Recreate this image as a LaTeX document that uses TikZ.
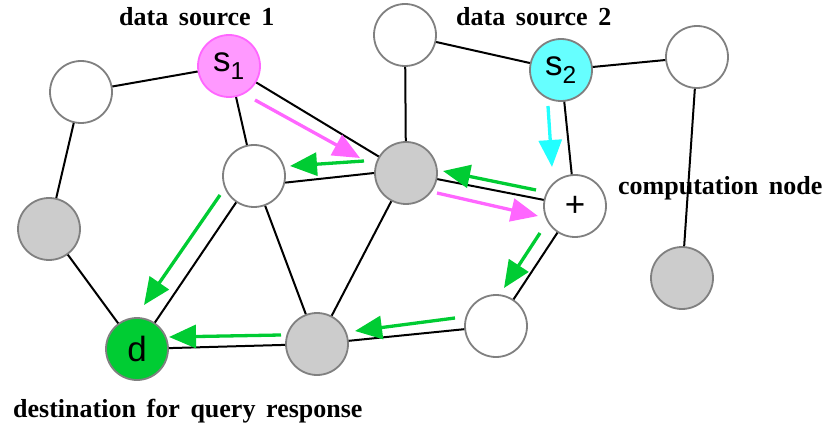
\documentclass[tikz,border=0pt]{standalone}
\usepackage{fontspec}
\setmainfont{Liberation Serif}
\setsansfont{Liberation Sans}
\usetikzlibrary{arrows.meta}
\definecolor{pinkfill}{HTML}{FF99FF}
\definecolor{pinkflow}{HTML}{FF66FF}
\definecolor{cyanfill}{HTML}{66FFFF}
\definecolor{cyanflow}{HTML}{22FFFF}
\definecolor{greenflow}{HTML}{00CC33}
\definecolor{nodegray}{HTML}{CCCCCC}
\definecolor{rim}{HTML}{808080}
\def\lblfont{\bfseries\fontsize{26}{26}\selectfont\spaceskip=0.41em\relax}
\tikzstyle{host}  = [circle, draw=rim, line width=1.8pt, minimum size=62pt, inner sep=0pt, fill=white, font=\sffamily\fontsize{35}{35}\selectfont]
\tikzstyle{relay} = [host, fill=nodegray]
\tikzstyle{link}  = [line width=2pt]
\tikzstyle{flow}  = [line width=3.3pt, -{Triangle[length=27pt,width=23pt]}]
\tikzstyle{lbl}   = [inner sep=0pt, anchor=base west, font=\lblfont]
\begin{document}
\begin{tikzpicture}[x=1pt,y=-1pt]
  \useasboundingbox (0,0) rectangle (828,425);
  % hosts of the network
  \node[host] (a) at (81,92) {};
  \node[host, fill=pinkfill, draw=pinkflow] (s1) at (229,66) {s\textsubscript{1}};
  \node[host] (b) at (405,35) {};
  \node[host, fill=cyanfill] (s2) at (561,70) {s\textsubscript{2}};
  \node[host] (c) at (697,57) {};
  \node[host] (m) at (254,176) {};
  \node[relay] (h) at (406,173) {};
  \node[host] (comp) at (575,206) {+};
  \node[relay] (f) at (49,229) {};
  \node[relay] (g) at (682,278) {};
  \node[host, fill=greenflow] (d) at (137,349) {d};
  \node[relay] (k) at (317,344) {};
  \node[host] (i) at (496,326) {};
  % labels
  \node[lbl] (src1) at (119,26) {data source 1};
  \node[lbl] (src2) at (456,26) {data source 2};
  \node[lbl] (cmp) at (618,195) {computation node};
  \node[lbl] (dst) at (13,417) {destination for query response};
  % links
  \draw[link] (a) -- (s1) (a) -- (f) (f) -- (d) (s1) -- (m) (s1) -- (h)
    (b) -- (h) (b) -- (s2) (s2) -- (c) (s2) -- (comp) (c) -- (g)
    (m.-12) -- (h.west) (m) -- (d) (m) -- (k) (h) -- (k) (h) -- (comp)
    (comp) -- (i) (i) -- (k) (k) -- (d);
  % query flows
  \draw[flow, pinkflow] ([shift={(26,34)}]s1.center) -- ([shift={(-46,-15)}]h.center);
  \draw[flow, pinkflow] ([shift={(31,20)}]h.center) -- ([shift={(-37,10)}]comp.center);
  \draw[flow, cyanflow] ([shift={(-13,36)}]s2.center) -- ([shift={(-23,-39)}]comp.center);
  % response flows
  \foreach \from/\fs/\to/\ts in {h/{-42,-12}/m/{36,-10}, comp/{-39,-16}/h/{37,-2},
      m/{-34,19}/d/{7,-44}, k/{-36,-9}/d/{32,-12}, i/{-41,-8}/k/{38,-13},
      comp/{-35,27}/i/{8,-38}}
    \draw[flow, greenflow] ([shift={(\fs)}]\from.center) -- ([shift={(\ts)}]\to.center);
\end{tikzpicture}
\end{document}
